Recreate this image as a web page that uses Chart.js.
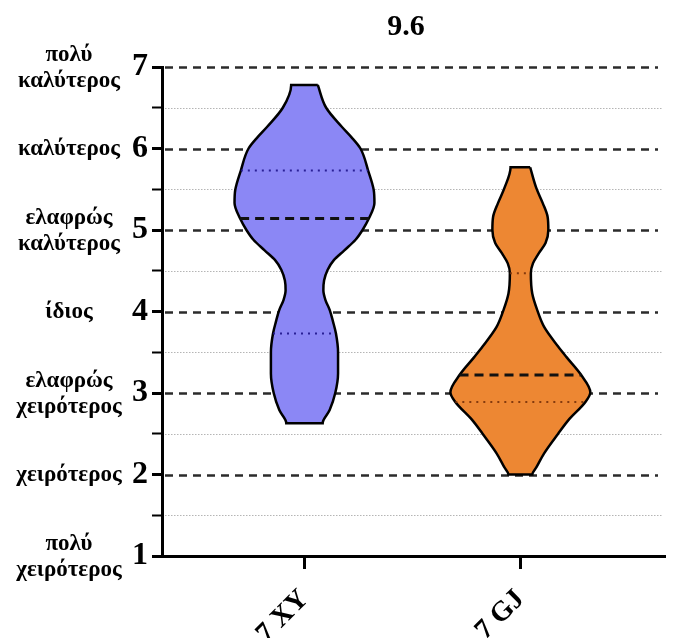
<!DOCTYPE html>
<html>
<head>
<meta charset="utf-8">
<script src="https://cdn.jsdelivr.net/npm/chart.js@4.4.1/dist/chart.umd.min.js"></script>
<style>
  html, body { margin: 0; padding: 0; background: #fff; overflow: hidden; }
  #chart { display: block; }
</style>
</head>
<body>
<canvas id="chart" width="673" height="638"></canvas>
<script>
const chartTitle = '9.6';
const groups = ['7 XY', '7 GJ'];
const yTickNames = [
    ['πολύ', 'χειρότερος'],
    ['χειρότερος'],
    ['ελαφρώς', 'χειρότερος'],
    ['ίδιος'],
    ['ελαφρώς', 'καλύτερος'],
    ['καλύτερος'],
    ['πολύ', 'καλύτερος'],
];

// violin outlines: score levels and relative density (1 = widest)
const xyLevels = [6.78, 6.5, 6.27, 6.14, 6.0, 5.73, 5.49, 5.33, 5.14, 5.0, 4.88, 4.75, 4.63, 4.51, 4.38, 4.26, 4.14, 4.02, 3.87, 3.73, 3.5, 3.24, 3.0, 2.79, 2.63];
const xyDensity = [0.19, 0.31, 0.53, 0.67, 0.80, 0.91, 0.99, 1.0, 0.92, 0.83, 0.73, 0.57, 0.42, 0.33, 0.28, 0.27, 0.30, 0.36, 0.41, 0.45, 0.48, 0.48, 0.44, 0.36, 0.26];
const gjLevels = [5.77, 5.51, 5.33, 5.16, 5.0, 4.84, 4.71, 4.59, 4.47, 4.22, 4.02, 3.81, 3.57, 3.44, 3.22, 3.01, 2.89, 2.67, 2.5, 2.26, 2.09, 2.0];
const gjDensity = [0.14, 0.23, 0.32, 0.39, 0.40, 0.36, 0.26, 0.18, 0.15, 0.17, 0.24, 0.34, 0.54, 0.66, 0.87, 1.0, 0.93, 0.69, 0.54, 0.34, 0.23, 0.17];

const medians = [5.14, 3.22];
const upperQuartiles = [5.73, 4.47];
const lowerQuartiles = [3.73, 2.89];

const HALF = 0.324;
const serif = 'Liberation Serif';

function outline(pos, levels, density) {
    const right = levels.map((y, i) => ({x: pos + density[i] * HALF, y: y}));
    const left = levels.map((y, i) => ({x: pos - density[i] * HALF, y: y})).reverse();
    const pts = right.concat(left);
    pts.push(pts[0]);
    return pts;
}

function across(pos, levels, density, value) {
    const w = density[levels.indexOf(value)] * HALF;
    return [{x: pos - w, y: value}, {x: pos + w, y: value}];
}

const violins = [
    {levels: xyLevels, density: xyDensity, fill: '#8B87F5', dots: 'rgba(30,20,140,0.9)'},
    {levels: gjLevels, density: gjDensity, fill: '#ED8733', dots: 'rgba(120,50,10,0.9)'},
];

const datasets = [];
violins.forEach((v, i) => {
    const pos = i + 1;
    datasets.push({
        data: across(pos, v.levels, v.density, medians[i]),
        borderColor: '#111',
        borderWidth: 3,
        borderDash: [9, 6],
        pointRadius: 0,
        order: 0,
    });
    [upperQuartiles[i], lowerQuartiles[i]].forEach(q => {
        datasets.push({
            data: across(pos, v.levels, v.density, q),
            borderColor: v.dots,
            borderWidth: 2,
            borderDash: [2, 5],
            pointRadius: 0,
            order: 0,
        });
    });
    datasets.push({
        data: outline(pos, v.levels, v.density),
        borderColor: '#000',
        borderWidth: 2.5,
        backgroundColor: v.fill,
        fill: 'shape',
        indexAxis: 'y',
        cubicInterpolationMode: 'monotone',
        pointRadius: 0,
        order: 1,
    });
});

const gridLines = {
    id: 'gridLines',
    beforeDatasetsDraw(chart) {
        const {ctx, chartArea, scales} = chart;
        ctx.save();
        scales.y.ticks.forEach(t => {
            if (t.value <= 1) return;
            const py = Math.round(scales.y.getPixelForValue(t.value)) + 0.5;
            ctx.beginPath();
            if (t.value % 1 === 0) {
                ctx.strokeStyle = '#2b2b2b';
                ctx.lineWidth = 2.5;
                ctx.setLineDash([8, 6]);
                ctx.moveTo(chartArea.left + 3, py);
                ctx.lineTo(chartArea.right - 7, py);
            } else {
                ctx.strokeStyle = '#b5b5b5';
                ctx.lineWidth = 1.2;
                ctx.setLineDash([1.5, 1.5]);
                ctx.moveTo(chartArea.left + 3, py);
                ctx.lineTo(chartArea.right - 3, py);
            }
            ctx.stroke();
        });
        ctx.restore();
    }
};

const textLabels = {
    id: 'textLabels',
    afterDraw(chart) {
        const {ctx, chartArea, scales} = chart;
        ctx.save();
        ctx.fillStyle = '#000';
        ctx.textAlign = 'center';
        ctx.textBaseline = 'middle';
        ctx.font = 'bold 30px "' + serif + '"';
        ctx.fillText(chartTitle, chartArea.left + 244, 27);
        ctx.font = 'bold 23px "' + serif + '"';
        yTickNames.forEach((lines, i) => {
            const py = scales.y.getPixelForValue(i + 1);
            const step = 26;
            const start = py - (lines.length - 1) * step / 2 + 1;
            lines.forEach((s, k) => ctx.fillText(s, 69, start + k * step));
        });
        ctx.restore();
    }
};

const chart = new Chart(document.getElementById('chart'), {
    type: 'scatter',
    data: {datasets: datasets},
    options: {
        responsive: false,
        animation: false,
        devicePixelRatio: 1,
        showLine: true,
        layout: {padding: {top: 67, right: 8, left: 0, bottom: 0}},
        plugins: {
            legend: {display: false},
            tooltip: {enabled: false},
        },
        scales: {
            x: {
                type: 'linear',
                min: 0.34,
                max: 2.67,
                afterBuildTicks: s => { s.ticks = groups.map((g, i) => ({value: i + 1})); },
                afterFit: s => { s.height = 82; s.paddingLeft = 0; s.paddingRight = 0; },
                ticks: {
                    autoSkip: false,
                    minRotation: 45,
                    maxRotation: 45,
                    padding: 14,
                    color: '#000',
                    font: {family: serif, size: 28, weight: 'bold'},
                    callback: v => groups[Math.round(v) - 1],
                },
                grid: {drawOnChartArea: false, tickLength: 13, tickWidth: 3, tickColor: '#000'},
                border: {color: '#000', width: 3},
            },
            y: {
                min: 1,
                max: 7,
                afterFit: s => { s.width = 162; s.paddingTop = 0; s.paddingBottom = 0; },
                ticks: {
                    stepSize: 0.5,
                    autoSkip: false,
                    padding: 4,
                    color: '#000',
                    font: {family: serif, size: 32, weight: 'bold'},
                    callback: v => (v % 1 === 0 ? v : ''),
                },
                grid: {
                    drawOnChartArea: false,
                    tickLength: 10,
                    tickWidth: c => (c.tick && c.tick.value % 1 === 0 ? 3 : 2),
                    tickColor: '#000',
                },
                border: {color: '#000', width: 3},
            },
        },
    },
    plugins: [gridLines, textLabels],
});
</script>
</body>
</html>
